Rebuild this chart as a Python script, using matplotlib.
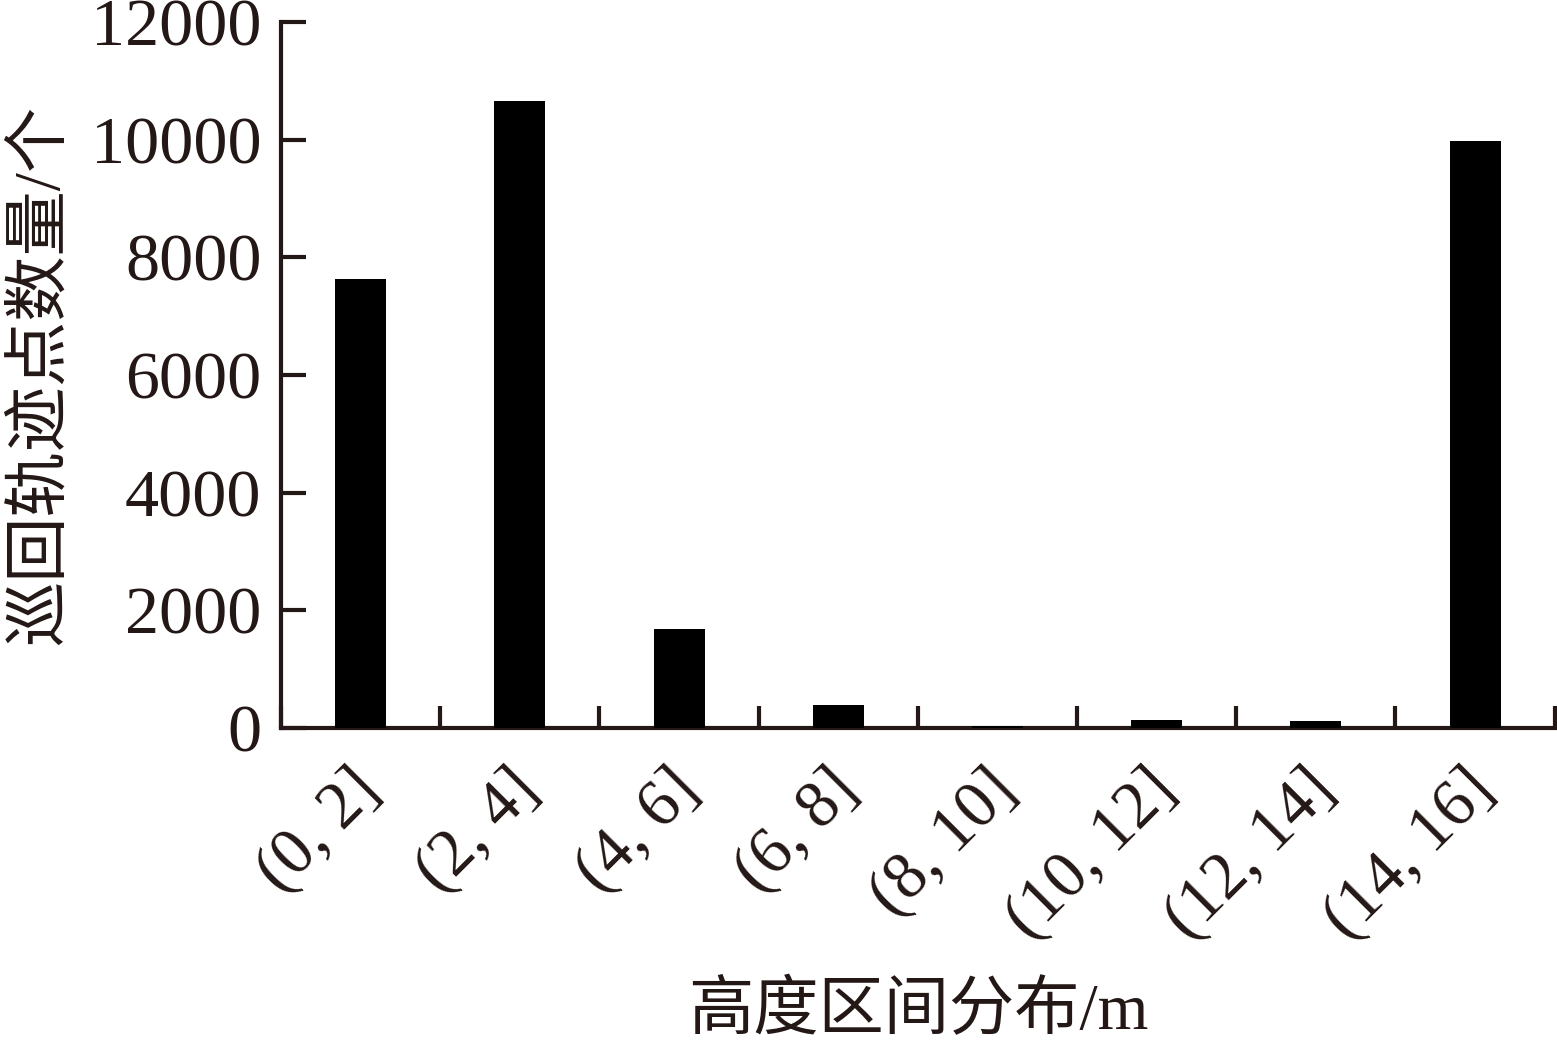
import numpy as np
import matplotlib
matplotlib.use("Agg")
import matplotlib.pyplot as plt
import matplotlib.transforms as mtransforms

# data
categories = ["(0, 2]", "(2, 4]", "(4, 6]", "(6, 8]", "(8, 10]", "(10, 12]", "(12, 14]", "(14, 16]"]
counts = [7640, 10650, 1690, 395, 30, 130, 125, 9970]
yticks = [0, 2000, 4000, 6000, 8000, 10000, 12000]

ink = "#231815"
fams = ["Liberation Serif", "Noto Sans CJK SC"]

plt.rcParams["font.family"] = fams

fig = plt.figure(figsize=(15.57, 10.49), dpi=100)
ax = fig.add_axes([0.1805, 0.306, 0.818, 0.673])

x = np.arange(len(categories))
ax.bar(x, counts, width=0.32, color="black", zorder=3)

ax.set_xlim(-0.5, len(categories) - 0.5)
ax.set_ylim(0, 12000)

for s in ["top", "right"]:
    ax.spines[s].set_visible(False)
for s in ["left", "bottom"]:
    ax.spines[s].set_linewidth(3.0)
    ax.spines[s].set_color(ink)

ax.set_yticks(yticks)
ax.set_yticklabels([str(v) for v in yticks])
ax.tick_params(axis="y", direction="in", length=18, width=3.0, color=ink,
               labelsize=49, labelcolor=ink, pad=14)

# category boundary ticks, labels at centres
ax.set_xticks(np.arange(len(categories) + 1) - 0.5)
ax.set_xticklabels([])
ax.set_xticks(x, minor=True)
ax.set_xticklabels(categories, minor=True, rotation=45, ha="right", va="top",
                   rotation_mode="anchor")
ax.tick_params(axis="x", which="major", direction="in", length=16, width=3.0, color=ink)
ax.tick_params(axis="x", which="minor", length=0, labelsize=48, labelcolor=ink, pad=22)
shift = mtransforms.ScaledTranslation(-12 / 100, 0, fig.dpi_scale_trans)
for lbl in ax.get_xticklabels(minor=True):
    lbl.set_transform(lbl.get_transform() + shift)

ax.set_ylabel("巡回轨迹点数量/个", fontsize=47, color=ink, labelpad=14)
ax.set_xlabel("高度区间分布/m", fontsize=47, color=ink, labelpad=22)

fig.savefig("out.png", dpi=100)
